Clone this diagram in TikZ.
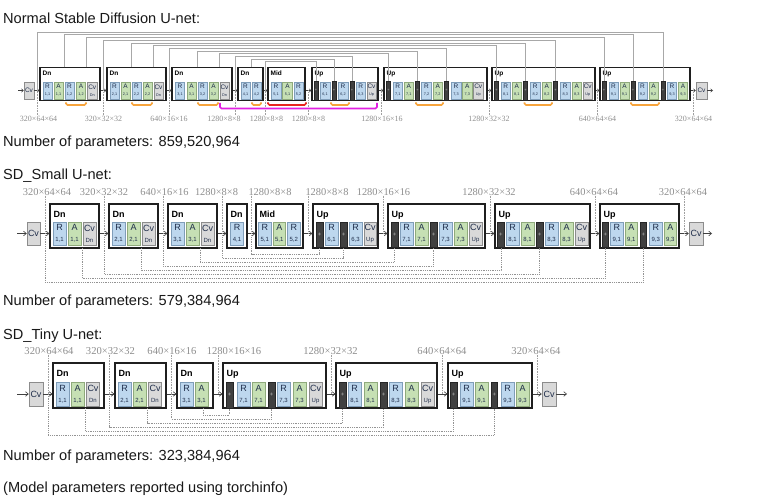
\documentclass[tikz,border=0pt]{standalone}
\usepackage{fontspec}
\setmainfont{Liberation Sans}
\newfontfamily\dimserif{Liberation Serif}
\usetikzlibrary{arrows.meta}
\definecolor{rfill}{HTML}{BDD7EE}
\definecolor{rdraw}{HTML}{7F9DB9}
\definecolor{afill}{HTML}{C6E0B4}
\definecolor{adraw}{HTML}{8FAA7C}
\definecolor{cfill}{HTML}{D9D9D9}
\definecolor{cdraw}{HTML}{8C8C8C}
\definecolor{kfill}{HTML}{404040}
\definecolor{kdraw}{HTML}{262626}
\definecolor{txtc}{HTML}{1F2D4A}
\definecolor{dimc}{HTML}{8E8E8E}
\definecolor{skipc}{HTML}{A8A8A8}
\definecolor{orng}{HTML}{F7A43C}
\definecolor{redb}{HTML}{E8271F}
\definecolor{magb}{HTML}{E21FE2}
\newcommand\bR[4]{\node[rb,minimum width={#3-#2}] (#1) at ({(#2+#3)/2},\ym) {R\\{\subf #4}};}
\newcommand\bA[4]{\node[ab,minimum width={#3-#2}] (#1) at ({(#2+#3)/2},\ym) {A\\{\subf #4}};}
\newcommand\bC[4]{\node[cb,minimum width={#3-#2}] (#1) at ({(#2+#3)/2},\ym) {Cv\\{\subf #4}};}
\newcommand\bV[3]{\node[cb,minimum width={#3-#2}] (#1) at ({(#2+#3)/2},\ym) {Cv};}
\newcommand\bK[3]{\node[kb,minimum width={#3-#2},minimum height={\bh+\kdh}] (#1) at ({(#2+#3)/2},{\ym+\kdy}) {+};}
\newcommand\bO[4]{\node[ob,minimum width={#3-#2},minimum height={\obb-\obt}] (#1) at ({(#2+#3)/2},{(\obt+\obb)/2}) {};
  \node[olab] (#1l) at ([xshift=\olx,yshift=\oly]#1.north west) {#4};}
\tikzset{
  base/.style={draw, line width=0.5pt, inner sep=0pt, align=center, minimum height=\bh, font=\blf, text=txtc},
  rb/.style={base, fill=rfill, draw=rdraw},
  ab/.style={base, fill=afill, draw=adraw},
  cb/.style={base, fill=cfill, draw=cdraw},
  kb/.style={base, fill=kfill, draw=kdraw, text=gray!55, font=\kf},
  ob/.style={draw=black!88, line width=1.1pt, inner sep=0pt},
  olab/.style={anchor=north west, inner sep=0pt, font=\olf, text=black},
  arrA/.style={draw=black!75, line width=0.5pt, -{Straight Barb[length=2pt,width=3.4pt]}},
  arrB/.style={draw=black!75, line width=0.6pt, -{Straight Barb[length=2.8pt,width=4.6pt]}},
  skipA/.style={draw=skipc, line width=0.5pt},
  skipB/.style={draw=gray!85, line width=0.5pt, dash pattern=on 0.9pt off 0.9pt},
  dimline/.style={draw=gray!75, line width=0.5pt, dash pattern=on 0.8pt off 0.8pt},
  dimlab/.style={inner sep=0pt, text=dimc, font=\dimf},
  brk/.style={line width=1.6pt, rounded corners=1.5pt},
  head/.style={anchor=base west, inner sep=0pt, font=\fontsize{14.6}{17}\selectfont, text=black!90},
}
\begin{document}
\begin{tikzpicture}[x=1pt,y=-1pt]
\useasboundingbox (0,0) rectangle (763,497);
\fill[white] (0,0) rectangle (763,497);
% ---------- headings
\node[head] (t1) at (3,23.5) {Normal Stable Diffusion U-net:};
\node[head] (p1) at (3,147) {Number of parameters: 859,520,964};
\node[head] (t2) at (3,180) {SD\_Small U-net:};
\node[head] (p2) at (3,305) {Number of parameters: 579,384,964};
\node[head] (t3) at (3,339.5) {SD\_Tiny U-net:};
\node[head] (p3) at (3,460) {Number of parameters: 323,384,964};
\node[head] (nt) at (3,492) {(Model parameters reported using torchinfo)};
% =========================== ROW 1
\def\ym{90.5}\def\bh{17}\def\obt{67.5}\def\obb{100.5}\def\kdy{0}\def\kdh{2}
\def\blf{\fontsize{6.5}{7}\selectfont}\def\subf{\fontsize{3.8}{4}\selectfont}
\def\kf{\fontsize{4}{4}\selectfont}\def\olf{\fontsize{6.5}{7}\selectfont\bfseries}
\def\olx{3pt}\def\oly{-4pt}\def\dimf{\dimserif\fontsize{8}{8}\selectfont}
\bV{aCi}{24}{34}
\bO{aD1}{40}{100}{Dn}
\bR{aR11}{43}{52}{1,1}\bA{aA11}{54}{63}{1,1}\bR{aR12}{65}{74}{1,2}\bA{aA12}{76.5}{85.5}{1,2}\bC{aC1}{87.5}{97}{Dn}
\bO{aD2}{107}{166}{Dn}
\bR{aR21}{110}{119}{2,1}\bA{aA21}{121}{130}{2,1}\bR{aR22}{132}{141}{2,2}\bA{aA22}{143}{152}{2,2}\bC{aC2}{154}{163}{Dn}
\bO{aD3}{172}{232}{Dn}
\bR{aR31}{175.5}{184.5}{3,1}\bA{aA31}{187}{196}{3,1}\bR{aR32}{198}{207}{3,2}\bA{aA32}{209}{218}{3,2}\bC{aC3}{220}{229}{Dn}
\bO{aD4}{238}{263}{Dn}
\bR{aR41}{241}{250}{4,1}\bR{aR42}{252}{261}{4,2}
\bO{aM}{268}{305}{Mid}
\bR{aR51}{271}{281}{5,1}\bA{aA51}{282.5}{292.5}{5,1}\bR{aR52}{294}{303}{5,2}
\bO{aU6}{312}{378}{Up}
\bK{aK61}{314}{318}\bR{aR61}{320}{330}{6,1}\bK{aK62}{332}{336}\bR{aR62}{338}{348}{6,2}\bK{aK63}{350}{354}\bR{aR63}{356}{365.5}{6,3}\bC{aC6}{367}{376}{Up}
\bO{aU7}{384}{487}{Up}
\bK{aK71}{386.5}{390.5}\bR{aR71}{393}{402.5}{7,1}\bA{aA71}{404}{413.5}{7,1}
\bK{aK72}{415.5}{419.5}\bR{aR72}{421.5}{431.5}{7,2}\bA{aA72}{433}{442.5}{7,2}
\bK{aK73}{444.5}{448.5}\bR{aR73}{451}{461}{7,3}\bA{aA73}{462.5}{472}{7,3}\bC{aC7}{473.5}{483}{Up}
\bO{aU8}{492}{595}{Up}
\bK{aK81}{494.5}{498.5}\bR{aR81}{501}{510.5}{8,1}\bA{aA81}{512}{521.5}{8,1}
\bK{aK82}{523.5}{527.5}\bR{aR82}{530.5}{540}{8,2}\bA{aA82}{542}{551.5}{8,2}
\bK{aK83}{553.5}{557.5}\bR{aR83}{560.5}{570}{8,3}\bA{aA83}{572}{581.5}{8,3}\bC{aC8}{583}{592.5}{Up}
\bO{aU9}{600}{690}{Up}
\bK{aK91}{602}{606}\bR{aR91}{609}{618}{9,1}\bA{aA91}{620}{629}{9,1}
\bK{aK92}{631}{635}\bR{aR92}{638}{647}{9,2}\bA{aA92}{649}{658}{9,2}
\bK{aK93}{661}{665}\bR{aR93}{667.5}{676.5}{9,3}\bA{aA93}{678.5}{687.5}{9,3}
\bV{aCo}{696}{707}
\coordinate (aIn) at (18,\ym); \coordinate (aOut) at (713,\ym);
\draw[arrA] (aIn) -- (aCi.west);
\foreach \p/\q in {aCi/aD1,aD1/aD2,aD2/aD3,aD3/aD4,aD4/aM,aM/aU6,aU6/aU7,aU7/aU8,aU8/aU9,aU9/aCo}
  \draw[arrA] (\p.east |- aCi) -- (\q.west |- aCi);
\draw[arrA] (aCo.east) -- (aOut);
\foreach \s/\sx/\sy/\d/\l in {1/37/90.5/aK93/32,2/64/67.5/aK92/34.7,3/86.5/67.5/aK91/37.4,4/103.5/90.5/aK83/40.1,
  5/131/67.5/aK82/42.8,6/153/67.5/aK81/45.5,7/169/90.5/aK73/48.2,8/197/67.5/aK72/50.9,
  9/219/67.5/aK71/53.6,10/235/90.5/aK63/56.3,11/251/67.5/aK62/59,12/265.5/90.5/aK61/61.7}{
  \coordinate (aS\s) at (\sx,\sy);
  \draw[skipA] (aS\s) |- (\d.north |- 0,\l) -- (\d.north);
}
\foreach \n/\cx/\lx/\t in {1/38.5/37/{320×64×64},2/103.5/103.5/{320×32×32},3/169/169/{640×16×16},
  4/224/235/{1280×8×8},5/266.5/265.5/{1280×8×8},6/308.5/308.5/{1280×8×8},7/382/381/{1280×16×16},
  8/489/489.5/{1280×32×32},9/597.5/597.5/{640×64×64},10/693.5/693/{320×64×64}}{
  \coordinate (aJ\n) at (\lx,\ym);
  \node[dimlab] (aL\n) at (\cx,118.5) {\t};
  \draw[dimline] (aJ\n) -- (aJ\n |- aL\n.north);
}
% brackets
\draw[brk,draw=magb] (220,103) -- (220,108.5) -- (377,108.5) -- (377,103);
\foreach \u/\v in {66/86,132/152,198/218,252/261,331/349,416/443,524.5/552,631/659}
  \draw[brk,draw=orng] (\u,102.3) -- (\u,105) -- (\v,105) -- (\v,102.3);
\draw[brk,draw=redb] (268,102.3) -- (268,105) -- (306,105) -- (306,102.3);
% =========================== ROW 2
\def\ym{233.5}\def\bh{23}\def\obt{204}\def\obb{248}\def\kdy{1.2}\def\kdh{2.4}
\def\blf{\fontsize{9}{11}\selectfont}\def\subf{\fontsize{6}{6}\selectfont}
\def\kf{\fontsize{6}{6}\selectfont}\def\olf{\fontsize{9}{10}\selectfont\bfseries}
\def\olx{4pt}\def\oly{-7.5pt}\def\dimf{\dimserif\fontsize{10.4}{10.4}\selectfont}
\bV{bCi}{27}{40}
\bO{bD1}{50}{99}{Dn}
\bR{bR11}{53}{66}{1,1}\bA{bA11}{68}{81}{1,1}\bC{bC1}{83}{96}{Dn}
\bO{bD2}{109}{158}{Dn}
\bR{bR21}{112}{125}{2,1}\bA{bA21}{127}{140}{2,1}\bC{bC2}{142}{155}{Dn}
\bO{bD3}{168}{217}{Dn}
\bR{bR31}{171}{184}{3,1}\bA{bA31}{186}{199}{3,1}\bC{bC3}{201}{214}{Dn}
\bO{bD4}{227}{247}{Dn}
\bR{bR41}{230.5}{243.5}{4,1}
\bO{bM}{256}{303}{Mid}
\bR{bR51}{258.5}{271}{5,1}\bA{bA51}{273}{285.5}{5,1}\bR{bR52}{287.5}{300}{5,2}
\bO{bU6}{313}{378}{Up}
\bK{bK61}{316}{323}\bR{bR61}{325}{338}{6,1}\bK{bK62}{340}{347}\bR{bR63}{349}{362}{6,3}\bC{bC6}{364}{376}{Up}
\bO{bU7}{388}{485}{Up}
\bK{bK71}{391}{398}\bR{bR71}{400}{413}{7,1}\bA{bA71}{415}{428}{7,1}
\bK{bK72}{430}{437}\bR{bR73}{439}{452}{7,3}\bA{bA73}{454}{467}{7,3}\bC{bC7}{469}{482}{Up}
\bO{bU8}{495}{590}{Up}
\bK{bK81}{497.5}{504}\bR{bR81}{506}{519}{8,1}\bA{bA81}{521}{534}{8,1}
\bK{bK82}{536}{543}\bR{bR83}{545}{558}{8,3}\bA{bA83}{560}{573}{8,3}\bC{bC8}{575}{588}{Up}
\bO{bU9}{600}{679}{Up}
\bK{bK91}{602}{608.5}\bR{bR91}{610.5}{623}{9,1}\bA{bA91}{625}{637.5}{9,1}
\bK{bK92}{640}{646.5}\bR{bR93}{649.5}{662}{9,3}\bA{bA93}{664}{676.5}{9,3}
\bV{bCo}{689}{703}
\coordinate (bIn) at (17,\ym); \coordinate (bOut) at (712,\ym);
\draw[arrB] (bIn) -- (bCi.west);
\foreach \p/\q in {bCi/bD1,bD1/bD2,bD2/bD3,bD3/bD4,bD4/bM,bM/bU6,bU6/bU7,bU7/bU8,bU8/bU9,bU9/bCo}
  \draw[arrB] (\p.east |- bCi) -- (\q.west |- bCi);
\draw[arrB] (bCo.east) -- (bOut);
\foreach \s/\sx/\sy/\d/\l in {1/45/233.5/bK92/282,2/82/248/bK91/278,3/104/233.5/bK82/274,4/141/248/bK81/270,
  5/163/233.5/bK72/266,6/200/248/bK71/262,7/222/233.5/bK62/258,8/251.5/233.5/bK61/254}{
  \coordinate (bS\s) at (\sx,\sy);
  \draw[skipB] (bS\s) |- (\d.south |- 0,\l) -- (\d.south);
}
\foreach \n/\cx/\lx/\t in {1/47/45/{320×64×64},2/104/104/{320×32×32},3/164.5/163/{640×16×16},
  4/216.5/222/{1280×8×8},5/270/251.5/{1280×8×8},6/327/308/{1280×8×8},7/383.5/383/{1280×16×16},
  8/489/490/{1280×32×32},9/594/595/{640×64×64},10/683/684/{320×64×64}}{
  \coordinate (bJ\n) at (\lx,\ym);
  \node[dimlab] (bL\n) at (\cx,192) {\t};
  \draw[dimline] (bL\n.south -| bJ\n) -- (bJ\n);
}
% =========================== ROW 3
\def\ym{394}\def\bh{24}\def\obt{363}\def\obb{408}
\def\dimf{\dimserif\fontsize{10.6}{10.6}\selectfont}
\bV{cCi}{29}{43}
\bO{cD1}{53}{104}{Dn}
\bR{cR11}{56}{69}{1,1}\bA{cA11}{71}{84}{1,1}\bC{cC1}{86.5}{99.5}{Dn}
\bO{cD2}{115}{166}{Dn}
\bR{cR21}{118}{131}{2,1}\bA{cA21}{133}{146}{2,1}\bC{cC2}{148.5}{161.5}{Dn}
\bO{cD3}{177}{213}{Dn}
\bR{cR31}{180}{193}{3,1}\bA{cA31}{195}{208}{3,1}
\bO{cU7}{223}{326}{Up}
\bK{cK71}{226}{233}\bR{cR71}{237}{250}{7,1}\bA{cA71}{252}{265}{7,1}
\bK{cK72}{268}{275}\bR{cR73}{277}{290}{7,3}\bA{cA73}{293}{306}{7,3}\bC{cC7}{309}{322}{Up}
\bO{cU8}{336}{437}{Up}
\bK{cK81}{339}{346}\bR{cR81}{348}{361}{8,1}\bA{cA81}{364}{377}{8,1}
\bK{cK82}{380}{387}\bR{cR83}{389}{402}{8,3}\bA{cA83}{405}{418}{8,3}\bC{cC8}{421}{434}{Up}
\bO{cU9}{448}{532}{Up}
\bK{cK91}{450}{457}\bR{cR91}{460}{473}{9,1}\bA{cA91}{475}{488}{9,1}
\bK{cK92}{491}{497.5}\bR{cR93}{501}{514}{9,3}\bA{cA93}{516}{529}{9,3}
\bV{cCo}{542}{556}
\coordinate (cIn) at (17,\ym); \coordinate (cOut) at (567,\ym);
\draw[arrB] (cIn) -- (cCi.west);
\foreach \p/\q in {cCi/cD1,cD1/cD2,cD2/cD3,cD3/cU7,cU7/cU8,cU8/cU9,cU9/cCo}
  \draw[arrB] (\p.east |- cCi) -- (\q.west |- cCi);
\draw[arrB] (cCo.east) -- (cOut);
\foreach \s/\sx/\sy/\d/\l in {1/48/394/cK92/435,2/85.5/408/cK91/431,3/109.5/394/cK82/427,
  4/147.5/408/cK81/423,5/171.5/394/cK72/419,6/203/408/cK71/415}{
  \coordinate (cS\s) at (\sx,\sy);
  \draw[skipB] (cS\s) |- (\d.south |- 0,\l) -- (\d.south);
}
\foreach \n/\cx/\lx/\t in {1/49/48/{320×64×64},2/110.5/109.5/{320×32×32},3/172/171.5/{640×16×16},
  4/234/218/{1280×16×16},5/330.5/331/{1280×32×32},6/442/442.5/{640×64×64},7/536/537/{320×64×64}}{
  \coordinate (cJ\n) at (\lx,\ym);
  \node[dimlab] (cL\n) at (\cx,351) {\t};
  \draw[dimline] (cL\n.south -| cJ\n) -- (cJ\n);
}
\end{tikzpicture}
\end{document}
